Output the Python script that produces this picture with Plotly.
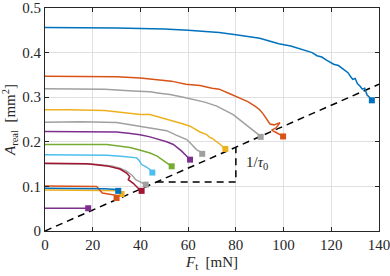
import plotly.graph_objects as go

# ---------------- data ----------------
blue_F = [0, 10, 20, 30, 40, 50, 60, 66, 73, 80, 86, 90, 94, 98, 103, 106, 110, 112, 114, 116, 118, 120, 121, 123, 125, 126, 127, 128, 129, 130, 131, 132, 133, 134, 134.5, 135, 136, 137]
blue_A = [0.456, 0.456, 0.455, 0.455, 0.454, 0.453, 0.450, 0.448, 0.445, 0.440, 0.436, 0.432, 0.426, 0.420, 0.415, 0.410, 0.404, 0.400, 0.393, 0.390, 0.383, 0.378, 0.374, 0.371, 0.363, 0.358, 0.355, 0.347, 0.340, 0.342, 0.330, 0.325, 0.318, 0.320, 0.310, 0.305, 0.300, 0.293]

orange_F = [0, 15, 30, 40, 47, 53, 59, 65, 70, 73, 77, 81, 85, 88, 90, 91.5, 92.2, 93, 94.3, 96, 98.5, 97, 95, 96.5, 98, 99.8]
orange_A = [0.347, 0.347, 0.346, 0.343, 0.340, 0.336, 0.329, 0.326, 0.320, 0.318, 0.309, 0.299, 0.290, 0.280, 0.272, 0.262, 0.257, 0.250, 0.240, 0.238, 0.243, 0.232, 0.226, 0.222, 0.218, 0.212]

gray1_F = [0, 10, 25, 37, 44, 48, 52.4, 58, 62.2, 67, 72, 75, 78.9, 81, 83.1, 85, 86, 87.3, 88.5, 89.5, 90.4]
gray1_A = [0.319, 0.319, 0.318, 0.314, 0.312, 0.309, 0.306, 0.300, 0.295, 0.289, 0.280, 0.272, 0.261, 0.252, 0.243, 0.236, 0.232, 0.227, 0.220, 0.216, 0.211]

yellow_F = [0, 10, 25, 35, 40, 44, 48, 52.4, 55, 58, 60.8, 63, 65, 67.8, 69, 70, 72, 73.5, 74.5, 75.6]
yellow_A = [0.272, 0.272, 0.270, 0.265, 0.261, 0.261, 0.255, 0.250, 0.246, 0.240, 0.235, 0.228, 0.222, 0.216, 0.210, 0.208, 0.201, 0.194, 0.189, 0.184]

gray2_F = [0, 15, 30, 39.8, 45, 51, 55, 59.4, 60.8, 62, 63.6, 65, 65.9]
gray2_A = [0.244, 0.245, 0.243, 0.235, 0.230, 0.225, 0.215, 0.205, 0.198, 0.190, 0.182, 0.178, 0.173]

purple_F = [0, 15, 30, 35, 39.8, 44, 48.2, 51, 53.8, 55.5, 57.3, 59, 60.8]
purple_A = [0.223, 0.223, 0.222, 0.219, 0.216, 0.211, 0.205, 0.200, 0.194, 0.187, 0.179, 0.170, 0.160]

green_F = [0, 15, 25.9, 30, 35.6, 40, 44, 47, 49, 51, 52, 53.1]
green_A = [0.194, 0.194, 0.194, 0.191, 0.187, 0.181, 0.175, 0.168, 0.160, 0.152, 0.150, 0.145]

cyan_F = [0, 15, 26, 33, 38.4, 39.5, 40.5, 42, 44, 45]
cyan_A = [0.171, 0.171, 0.170, 0.167, 0.164, 0.158, 0.149, 0.145, 0.138, 0.131]

gray3_F = [0, 20, 28, 31.4, 34, 36.5, 38, 40, 41, 42.2]
gray3_A = [0.151, 0.150, 0.146, 0.141, 0.135, 0.125, 0.115, 0.110, 0.108, 0.104]

darkred_F = [0, 17.5, 25.9, 31.4, 34.2, 35.5, 34.9, 37, 39.8, 40.5]
darkred_A = [0.152, 0.151, 0.146, 0.139, 0.130, 0.122, 0.115, 0.107, 0.092, 0.090]

lowyellow_F = [0, 15, 25, 31.4, 32.1]
lowyellow_A = [0.092, 0.092, 0.091, 0.090, 0.083]

loworange_F = [0, 10, 21.7, 24, 28, 31, 30]
loworange_A = [0.101, 0.101, 0.100, 0.085, 0.081, 0.079, 0.074]

lowblue_F = [0, 10, 20, 25, 30, 30.7]
lowblue_A = [0.096, 0.096, 0.095, 0.095, 0.093, 0.090]

lowpurple_F = [0, 18.1]
lowpurple_A = [0.051, 0.051]

# reference line (slope 1/tau0) and slope triangle
dash_F = [0, 140]
dash_A = [0, 0.329]
tri_F = [46.8, 80, 80]
tri_A = [0.110, 0.110, 0.188]

x_ticks = [0, 20, 40, 60, 80, 100, 120, 140]
y_ticks = [0, 0.1, 0.2, 0.3, 0.4, 0.5]

BLUE = "#0072BD"; ORANGE = "#D95319"; YELLOW = "#EDB120"; PURPLE = "#7E2F8E"
GREEN = "#77AC30"; CYAN = "#4DBEEE"; DARKRED = "#A2142F"; GRAY = "#a0a0a0"

series = [
    (blue_F, blue_A, BLUE),
    (orange_F, orange_A, ORANGE),
    (gray1_F, gray1_A, GRAY),
    (yellow_F, yellow_A, YELLOW),
    (gray2_F, gray2_A, GRAY),
    (purple_F, purple_A, PURPLE),
    (green_F, green_A, GREEN),
    (cyan_F, cyan_A, CYAN),
    (gray3_F, gray3_A, GRAY),
    (darkred_F, darkred_A, DARKRED),
    (lowyellow_F, lowyellow_A, YELLOW),
    (loworange_F, loworange_A, ORANGE),
    (lowblue_F, lowblue_A, BLUE),
    (lowpurple_F, lowpurple_A, PURPLE),
]

fig = go.Figure()

fig.add_trace(go.Scatter(x=dash_F, y=dash_A, mode="lines",
                         line=dict(color="black", width=1.5, dash="7px,5px"),
                         showlegend=False, hoverinfo="skip"))
fig.add_trace(go.Scatter(x=tri_F, y=tri_A, mode="lines",
                         line=dict(color="black", width=1.5, dash="7px,5px"),
                         showlegend=False, hoverinfo="skip"))

for F, A, c in series:
    fig.add_trace(go.Scatter(x=F, y=A, mode="lines",
                             line=dict(color=c, width=1.5),
                             showlegend=False))
    fig.add_trace(go.Scatter(x=[F[-1]], y=[A[-1]], mode="markers",
                             marker=dict(color=c, size=6, symbol="square"),
                             showlegend=False))

SERIF = "Liberation Serif"
axis_common = dict(
    showline=True, linecolor="#262626", linewidth=1, mirror="ticks",
    ticks="inside", ticklen=4, tickcolor="#262626",
    showgrid=True, gridcolor="#e0e0e0", gridwidth=1,
    zeroline=False, automargin=False, ticklabeloverflow="allow",
    tickfont=dict(family=SERIF, size=15, color="#262626"),
)

fig.update_xaxes(range=[0, 140], tickvals=x_ticks,
                 ticktext=[str(v) for v in x_ticks],
                 title=dict(text="<i>F</i><sub>t</sub>  [mN]",
                            font=dict(family=SERIF, size=15, color="#262626"),
                            standoff=4),
                 **axis_common)
fig.update_yaxes(range=[0, 0.5], tickvals=y_ticks,
                 ticktext=["0", "0.1", "0.2", "0.3", "0.4", "0.5"],
                 title=dict(text="<i>A</i><sub>real</sub>  [mm<sup>2</sup>]",
                            font=dict(family=SERIF, size=15, color="#262626"),
                            standoff=6),
                 **axis_common)

fig.add_annotation(x=89, y=0.152, text="1/<i>τ</i><sub>0</sub>",
                   showarrow=False,
                   font=dict(family=SERIF, size=15, color="#262626"))

fig.update_layout(
    width=390, height=276,
    margin=dict(l=45, r=11, t=8, b=45, autoexpand=False),
    paper_bgcolor="white", plot_bgcolor="white",
)

fig.write_html("out.html",
               config={"displayModeBar": False},
               post_script="document.body.style.margin='0';document.body.style.overflow='hidden';")
